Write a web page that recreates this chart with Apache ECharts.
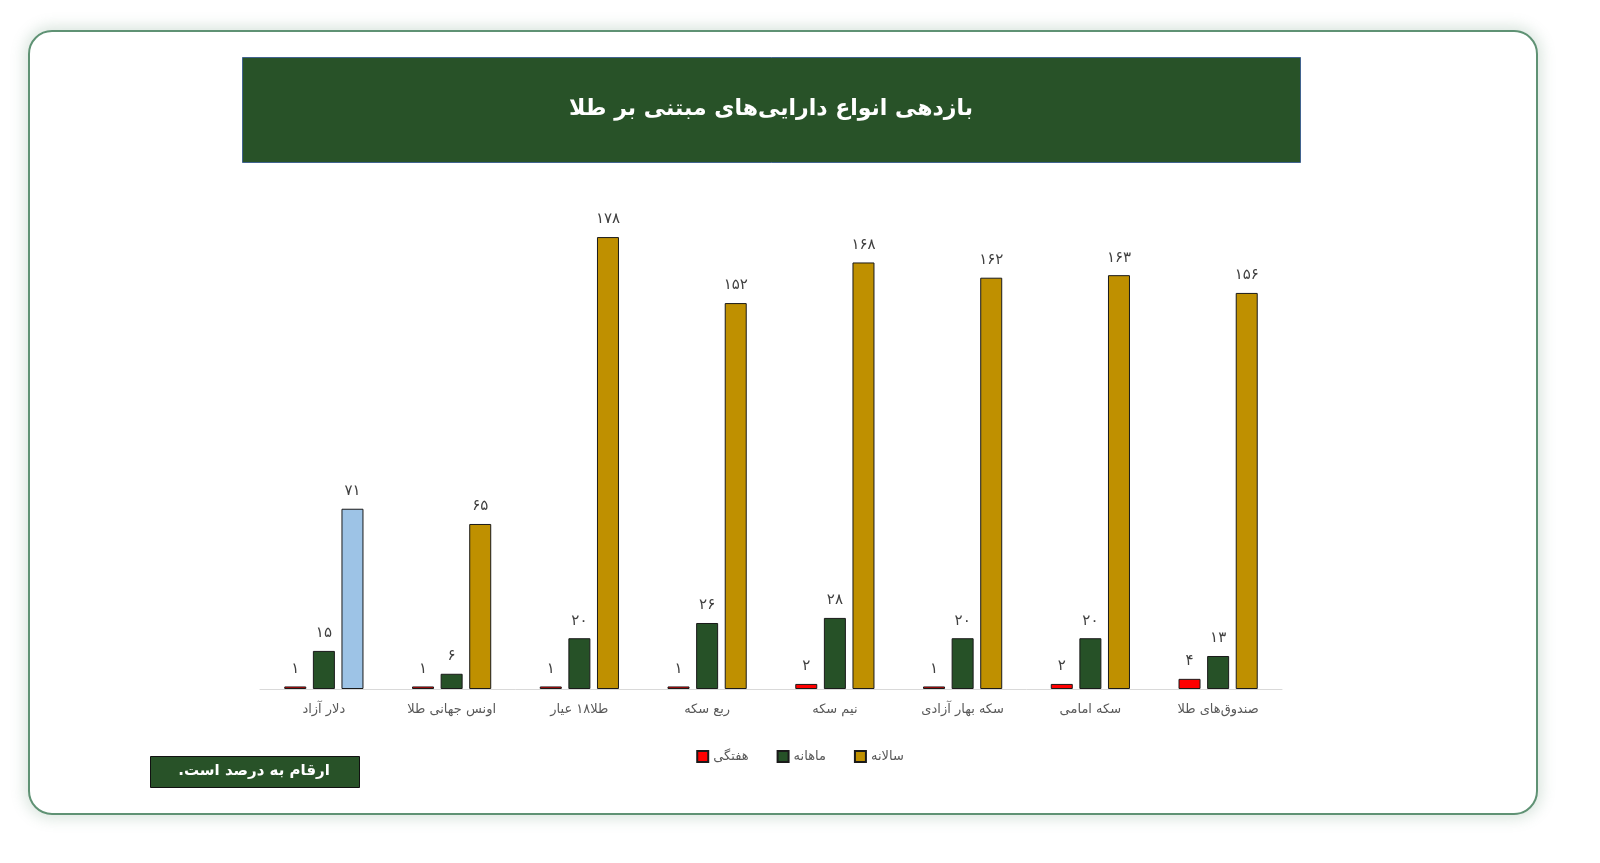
<!DOCTYPE html>
<html><head><meta charset="utf-8">
<script src="https://cdn.jsdelivr.net/npm/echarts@6/dist/echarts.min.js"></script>
<style>
html,body{margin:0;padding:0;background:#fff;width:1600px;height:863px;overflow:hidden;}
#card{position:absolute;left:28px;top:30px;width:1506px;height:781px;border:2px solid #5f9274;border-radius:24px;box-shadow:0 0 14px 4px rgba(90,140,110,0.22);background:#fff;}
#chart{position:absolute;left:0;top:0;width:1600px;height:863px;}
</style></head>
<body>
<div id="card"></div>
<div id="chart"></div>
<script>
const categories = ['دلار آزاد','اونس جهانی طلا','طلا۱۸ عیار','ربع سکه','نیم سکه','سکه بهار آزادی','سکه امامی','صندوق‌های طلا'];
const weekly  = [1, 1, 1, 1, 2, 1, 2, 4];
const monthly = [15, 6, 20, 26, 28, 20, 20, 13];
const yearly  = [71, 65, 178, 152, 168, 162, 163, 156];
const seriesNames = ['هفتگی','ماهانه','سالانه'];
const titleText = 'بازدهی انواع دارایی‌های مبتنی بر طلا';
const noteText = 'ارقام به درصد است.';

const FONT = 'DejaVu Sans';
const RLM = '\u200F';
const fa = n => String(n).replace(/\d/g, d => '۰۱۲۳۴۵۶۷۸۹'[d]);
const chart = echarts.init(document.getElementById('chart'), null, {renderer:'canvas'});
const lbl = {show:true, position:'top', distance:10, color:'#404040', fontSize:15, fontFamily:FONT, formatter:p => fa(p.value)};
const common = {type:'bar', barWidth:22, barGap:'30%', label:lbl};
chart.setOption({
  animation:false,
  backgroundColor:'transparent',
  grid:{left:260, right:318, top:232, bottom:174},
  xAxis:{type:'category', data:categories,
    axisLine:{lineStyle:{color:'#d9d9d9', width:1}}, axisTick:{show:false},
    axisLabel:{color:'#595959', fontSize:13, fontFamily:FONT, margin:14}},
  yAxis:{type:'value', min:0, max:180, show:false, splitLine:{show:false}},
  legend:{bottom:95, left:'center', icon:'rect', itemWidth:11, itemHeight:11, itemGap:28,
    textStyle:{color:'#595959', fontSize:13, fontFamily:FONT},
    data:seriesNames},
  series:[
    Object.assign({}, common, {name:seriesNames[0], data:weekly,
      itemStyle:{color:'#ff0000', borderColor:'#1a1a1a', borderWidth:1}}),
    Object.assign({}, common, {name:seriesNames[1], data:monthly,
      itemStyle:{color:'#265127', borderColor:'#1a1a1a', borderWidth:1}}),
    Object.assign({}, common, {name:seriesNames[2],
      data:yearly.map((v,i) => i === 0 ? {value:v, itemStyle:{color:'#9dc3e6'}} : v),
      itemStyle:{color:'#bf9000', borderColor:'#1a1a1a', borderWidth:1}})
  ],
  graphic:[
    {type:'rect', left:242, top:57, shape:{width:1058, height:105},
      style:{fill:'#285228', stroke:'#41638f', lineWidth:1}},
    {type:'text', x:771, y:109,
      style:{text:titleText, fill:'#ffffff', font:'bold 22px "DejaVu Sans"', align:'center', verticalAlign:'middle'}},
    {type:'rect', left:150, top:756, shape:{width:209, height:31},
      style:{fill:'#285228', stroke:'#111', lineWidth:1}},
    {type:'text', x:254, y:771,
      style:{text:noteText + RLM, fill:'#ffffff', font:'bold 15px "DejaVu Sans"', align:'center', verticalAlign:'middle'}}
  ]
});
</script>
</body></html>
